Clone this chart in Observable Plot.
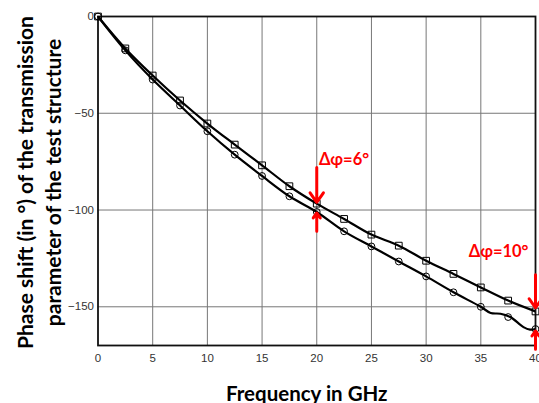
<!DOCTYPE html>
<html><head><meta charset="utf-8">
<script src="https://cdn.jsdelivr.net/npm/d3@7"></script>
<script src="https://cdn.jsdelivr.net/npm/@observablehq/plot@0.6"></script>
<style>body{margin:0;background:#fff;} svg{display:block;}</style>
</head><body><div id="chart"></div>
<script>
const freq = [0, 2.5, 5, 7.5, 10, 12.5, 15, 17.5, 20, 22.5, 25, 27.5, 30, 32.5, 35, 37.5, 40];
const squares = [0, -16.5, -30.5, -43.4, -55.3, -66.2, -76.9, -87.7, -96.7, -104.6, -112.7, -118.4, -126.2, -133, -140, -146.8, -152.4];
const circles = [0, -17.5, -32.6, -46, -59.3, -71.4, -82.4, -92.9, -101, -111, -118.8, -126.6, -134.3, -142.5, -150, -155.3, -161.5];
// extra points read from the wiggly tail of the circle curve
const circleLineF = [0, 2.5, 5, 7.5, 10, 12.5, 15, 17.5, 20, 22.5, 25, 27.5, 30, 32.5, 35, 35.9, 36.8, 37.7, 38.9, 39.5, 40];
const circleLineV = [0, -17.5, -32.6, -46, -59.3, -71.4, -82.4, -92.9, -101, -111, -118.8, -126.6, -134.3, -142.5, -150, -153.2, -153.6, -155.3, -160.5, -161.8, -161.5];
const xTicks = [0, 5, 10, 15, 20, 25, 30, 35, 40];
const yTicks = [0, -50, -100, -150];
const arrowX1 = [20, 20, 40, 40];
const arrowY1 = [-78, -111, -133.5, -172];
const arrowY2 = [-96, -101.5, -150.5, -162.5];
const labelText = ["Δφ=6°", "Δφ=10°"];
const labelX = [20.2, 33.9];
const labelY = [-74, -121.5];

const sq = freq.map((f, i) => ({f, v: squares[i]}));
const ci = freq.map((f, i) => ({f, v: circles[i]}));
const ciLine = circleLineF.map((f, i) => ({f, v: circleLineV[i]}));
const arrows = arrowX1.map((x, i) => ({x, y1: arrowY1[i], y2: arrowY2[i]}));
const labels = labelText.map((t, i) => ({t, x: labelX[i], y: labelY[i]}));

const chart = Plot.plot({
  width: 539, height: 403,
  marginLeft: 97.5, marginRight: 4, marginTop: 16, marginBottom: 58,
  style: {fontFamily: "Liberation Sans", fontSize: "11.5px", color: "#333", overflow: "visible"},
  x: {domain: [0, 40], ticks: xTicks, tickSize: 0, tickPadding: 8, label: null},
  y: {domain: [-170, 0], ticks: yTicks, tickSize: 0, tickPadding: 4, label: null},
  marks: [
    Plot.gridX(xTicks.filter(d => d > 0 && d < 40), {stroke: "#777", strokeOpacity: 1, strokeWidth: 1}),
    Plot.gridY(yTicks.filter(d => d < 0), {stroke: "#777", strokeOpacity: 1, strokeWidth: 1}),
    Plot.frame({stroke: "#111", strokeWidth: 1.8}),
    Plot.line(sq, {x: "f", y: "v", stroke: "#000", strokeWidth: 2.2, curve: "catmull-rom", clip: true}),
    Plot.line(ciLine, {x: "f", y: "v", stroke: "#000", strokeWidth: 2.2, curve: "catmull-rom", clip: true}),
    Plot.dot(sq, {x: "f", y: "v", symbol: "square", r: 3.8, stroke: "#000", strokeWidth: 1, fill: "none"}),
    Plot.dot(ci, {x: "f", y: "v", symbol: "circle", r: 3.4, stroke: "#000", strokeWidth: 1, fill: "none"}),
    Plot.arrow(arrows, {x1: "x", y1: "y1", x2: "x", y2: "y2", stroke: "#f00", strokeWidth: 3, headLength: 12, headAngle: 70}),
    Plot.text(labels, {x: "x", y: "y", text: "t", fill: "#f00", fontWeight: "bold", fontSize: 16.5, fontFamily: "Lato", textAnchor: "start"}),
    Plot.text(["Phase shift (in °) of the transmission\nparameter of the test structure"], {frameAnchor: "left", textAnchor: "middle", lineAnchor: "middle", rotate: -90, dx: -60, dy: 1.5, fontSize: 21, fontWeight: "bold", fontFamily: "Lato", fill: "#000", lineHeight: 1.36}),
    Plot.text(["Frequency in GHz"], {frameAnchor: "bottom", textAnchor: "middle", lineAnchor: "middle", dx: -10, dy: 49, fontSize: 20.5, fontWeight: "bold", fontFamily: "Lato", fill: "#000"})
  ]
});
document.getElementById("chart").appendChild(chart);
</script></body></html>
